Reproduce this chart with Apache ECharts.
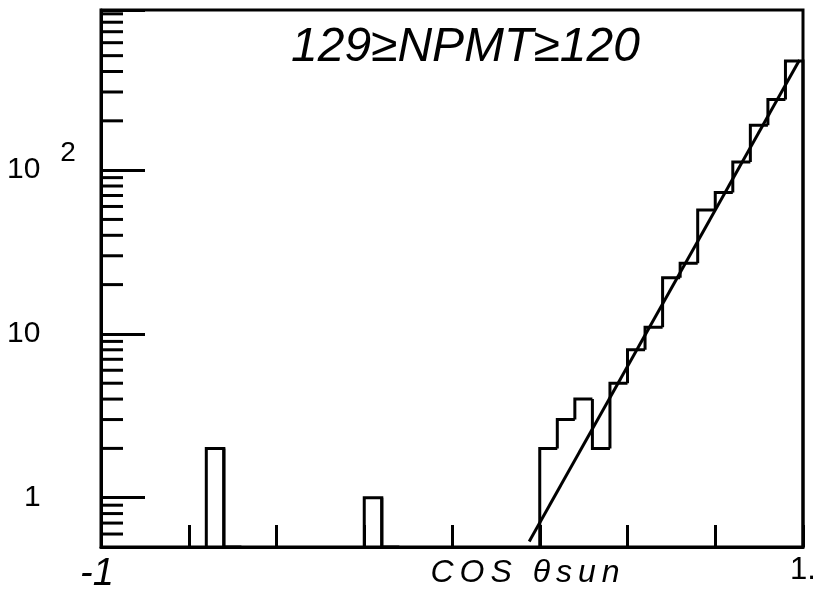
<!DOCTYPE html>
<html>
<head>
<meta charset="utf-8">
<script src="https://cdn.jsdelivr.net/npm/echarts@6/dist/echarts.min.js"></script>
<style>
  html, body { margin: 0; padding: 0; background: #fff; }
  #chart { width: 817px; height: 598px; }
</style>
</head>
<body>
<div id="chart"></div>
<script>
// cos(theta_sun) distribution: 40 bins of width 0.05 spanning -1 .. 1
const binLow = -1;
const binWidth = 0.05;
const counts = [
  0, 0, 0, 0, 0, 0, 2, 0, 0, 0,
  0, 0, 0, 0, 0, 1, 0, 0, 0, 0,
  0, 0, 0, 0, 0, 2, 3, 4, 2, 5,
  8, 11, 22, 27, 57, 73, 112, 188, 270, 464
];

// exponential fit: a straight line on the logarithmic count axis
const fitLine = [[0.22, 0.54], [0.99, 470]];

// axis ranges and tick marks
const xRange = [-1, 1];
const xTickStep = 0.25;
const xTickLabels = { '-1': '-1', '1': '1.' };
const yRange = [0.5, 950];
const yTickLabels = { '1': '1', '10': '10', '100': '10 2' };
const yMinorTicks = [
  0.6, 0.7, 0.8, 0.9,
  2, 3, 4, 5, 6, 7, 8, 9,
  20, 30, 40, 50, 60, 70, 80, 90,
  200, 300, 400, 500, 600, 700, 800, 900
];

const titleText = '129≥NPMT≥120';
const xAxisName = 'COS θsun';

// one record per bin: [low edge, high edge, count, count of previous bin, count of next bin]
const bins = counts.map((c, i) => [
  binLow + i * binWidth,
  binLow + (i + 1) * binWidth,
  c,
  i > 0 ? counts[i - 1] : 0,
  i < counts.length - 1 ? counts[i + 1] : 0
]);

const INK = '#000';
const labelFont = 'Liberation Sans, Arial, sans-serif';

function findLabel(map, v) {
  for (const k in map) {
    if (Math.abs(Number(k) - v) < 1e-6 * Math.max(1, Math.abs(v))) return map[k];
  }
  return null;
}

// hand-lettered look: every character gets a little room on each side
function spaced(text) {
  return text.split('').map(ch => (ch === ' ' ? '{g| }' : '{w|' + ch + '}')).join('');
}

// outline-style histogram: top edge of each bin plus the riser from the previous bin
function renderBin(params, api) {
  const cs = params.coordSys;
  const yBase = cs.y + cs.height;
  const lo = api.value(0), hi = api.value(1);
  const c = api.value(2), prev = api.value(3), next = api.value(4);
  const yOf = v => (v > 0 ? api.coord([lo, v])[1] : yBase);
  const xl = api.coord([lo, yRange[0]])[0];
  const xr = api.coord([hi, yRange[0]])[0];
  if (c <= 0 && prev <= 0) return null;
  const pts = [[xl, yOf(prev)], [xl, yOf(c)], [xr, yOf(c)]];
  if (next <= 0 && c > 0) pts.push([xr, yBase]);
  return {
    type: 'polyline',
    shape: { points: pts },
    style: { stroke: INK, lineWidth: 3, fill: null, lineJoin: 'miter' }
  };
}

// short inner ticks at the intermediate values of each decade
function renderMinorTick(params, api) {
  const p = api.coord([api.value(0), api.value(1)]);
  return {
    type: 'line',
    shape: { x1: p[0], y1: p[1], x2: p[0] + 22, y2: p[1] },
    style: { stroke: INK, lineWidth: 3 }
  };
}

const chart = echarts.init(document.getElementById('chart'), null, { renderer: 'canvas' });

chart.setOption({
  backgroundColor: '#fff',
  animation: false,
  title: {
    text: titleText,
    left: 286,
    top: 19,
    textStyle: {
      fontFamily: labelFont,
      fontSize: 48,
      fontStyle: 'italic',
      fontWeight: 'normal',
      color: INK
    }
  },
  grid: {
    left: 101,
    right: 14,
    top: 10,
    bottom: 51,
    containLabel: false,
    outerBoundsMode: 'none',
    show: true,
    borderColor: INK,
    borderWidth: 3,
    backgroundColor: 'transparent'
  },
  xAxis: {
    type: 'value',
    min: xRange[0],
    max: xRange[1],
    interval: xTickStep,
    name: spaced(xAxisName),
    nameLocation: 'middle',
    nameGap: 10,
    nameMoveOverlap: false,
    nameTextStyle: {
      color: INK,
      padding: [0, 0, 0, 146],
      rich: {
        w: { fontFamily: labelFont, fontSize: 32, fontStyle: 'italic', color: INK, padding: [0, 3, 0, 3] },
        g: { fontFamily: labelFont, fontSize: 32, color: INK, padding: [0, 3, 0, 3] }
      }
    },
    axisLine: { show: true, onZero: false, lineStyle: { color: INK, width: 3 } },
    axisTick: { show: true, inside: true, length: 22, lineStyle: { color: INK, width: 3 } },
    splitLine: { show: false },
    axisLabel: {
      show: true,
      margin: 8,
      showMinLabel: true,
      showMaxLabel: true,
      formatter: v => {
        const t = findLabel(xTickLabels, v);
        if (t === '-1') return '{h|-1}';
        if (t) return '{p|' + t + '}';
        return '';
      },
      rich: {
        h: { fontFamily: labelFont, fontSize: 38, fontStyle: 'italic', color: INK, padding: [0, 8, 0, 0] },
        p: { fontFamily: labelFont, fontSize: 31, color: INK, padding: [0, 0, 0, 0] }
      }
    }
  },
  yAxis: {
    type: 'log',
    logBase: 10,
    min: yRange[0],
    max: yRange[1],
    axisLine: { show: true, onZero: false, lineStyle: { color: INK, width: 3 } },
    axisTick: { show: true, inside: true, length: 44, lineStyle: { color: INK, width: 3 } },
    minorTick: { show: false },
    splitLine: { show: false },
    axisLabel: {
      show: true,
      align: 'left',
      margin: 94,
      formatter: v => {
        const t = findLabel(yTickLabels, v);
        if (t === '1') return '{one|1}';
        if (t === '10') return '{n|10}';
        if (t) return '{n|10}{s|2}';
        return '';
      },
      rich: {
        one: { fontFamily: labelFont, fontSize: 30, color: INK, padding: [0, 0, 0, 17] },
        n: { fontFamily: labelFont, fontSize: 30, color: INK },
        s: { fontFamily: labelFont, fontSize: 28, color: INK, padding: [0, 0, 34, 20] }
      }
    }
  },
  series: [
    {
      type: 'custom',
      name: 'histogram',
      renderItem: renderBin,
      data: bins,
      encode: { x: [0, 1], y: 2 },
      clip: false,
      silent: true,
      z: 3
    },
    {
      type: 'line',
      name: 'fit',
      data: fitLine,
      showSymbol: false,
      symbol: 'none',
      lineStyle: { color: INK, width: 3 },
      silent: true,
      z: 4
    },
    {
      type: 'custom',
      name: 'minor ticks',
      renderItem: renderMinorTick,
      data: yMinorTicks.map(v => [xRange[0], v]),
      encode: { x: 0, y: 1 },
      clip: false,
      silent: true,
      z: 5
    }
  ]
});
</script>
</body>
</html>
